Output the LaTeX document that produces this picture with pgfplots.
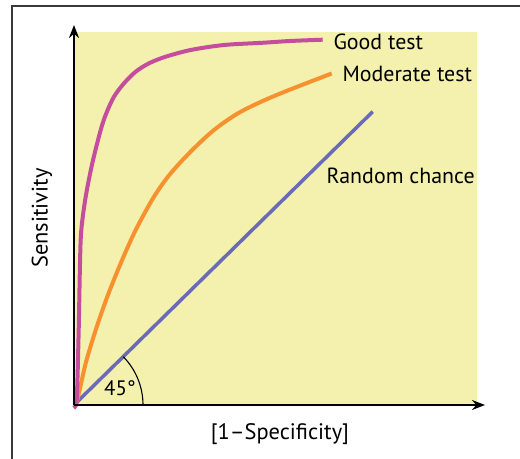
\documentclass[border=0pt]{standalone}
\usepackage{pgfplots}
\pgfplotsset{compat=1.18}
\usetikzlibrary{arrows.meta}
\usepackage{fontspec}
\setmainfont{PT Sans}
\definecolor{bgyellow}{HTML}{F3F1AD}
\definecolor{goodc}{HTML}{C44D9E}
\definecolor{modc}{HTML}{F7902E}
\definecolor{randc}{HTML}{6A6AB8}
\definecolor{framec}{HTML}{3A3A3A}
\begin{document}
\begin{tikzpicture}
\begin{axis}[
  x=1bp, y=1bp,
  xmin=0, xmax=411, ymin=0, ymax=380,
  axis lines*=left,
  axis line style={draw=none},
  xtick=\empty, ytick=\empty,
  clip=false,
  xlabel={[1–Specificity]},
  ylabel={Sensitivity},
  label style={font=\fontsize{22.5}{26}\selectfont},
  xlabel style={at={(axis description cs:0.501,-0.0763)}, anchor=center},
  ylabel style={at={(axis description cs:-0.078,0.492)}, anchor=center, rotate=0},
]
\coordinate (bl) at (axis cs:-74,-54);
\coordinate (tr) at (axis cs:446,405);
% background
\addplot[fill=bgyellow, draw=none] coordinates {(0,0) (403,0) (403,373) (0,373)} -- cycle;
% random chance
\addplot[randc, line width=3.5bp] coordinates {(0,0) (298.7,293.3)};
% moderate test
\addplot[modc, line width=4bp, smooth] coordinates {
(0,0) (3.3,5) (11.7,41.7) (21.7,75) (33.3,108.3) (46.7,141.7) (61.7,175)
(80,208.3) (96.7,231.7) (118.3,255) (140,275) (163.3,291.3) (188.3,303.8)
(216,315.4) (257.7,331.5)};
% good test
\addplot[goodc, line width=4bp, smooth] coordinates {
(0,0) (2.7,5) (4.7,75) (6,141.7) (7.3,175) (11.7,208.3) (18.3,241.7)
(26.7,275) (32.3,291.7) (40,308.3) (50,321.7) (61.7,333.3) (75,341.7)
(91.7,348.3) (116.7,355) (150,360) (190,362.3) (216,364) (248.7,365.3)};
% axes
\addplot[black, line width=2bp, -{Stealth[length=13bp,width=10bp]}] coordinates {(0,0) (411,0)};
\addplot[black, line width=2bp, -{Stealth[length=13bp,width=10bp]}] coordinates {(0,0) (0,380)};
\draw[black, line width=1.1bp] (axis cs:69,0) arc[start angle=0, end angle=44.5, radius=69bp];
\node[anchor=center, font=\fontsize{21}{24}\selectfont] at (axis cs:46,17) {45°};
\node[anchor=west, font=\fontsize{22}{25}\selectfont] at (axis cs:256,363) {Good test};
\node[anchor=west, font=\fontsize{22}{25}\selectfont] at (axis cs:265,331) {Moderate test};
\node[anchor=west, font=\fontsize{22}{25}\selectfont] at (axis cs:249,229) {Random chance};
\end{axis}
\pgfresetboundingbox
\useasboundingbox (bl) rectangle (tr);
\draw[framec, line width=1.6bp] ([xshift=12bp]bl) -- ([xshift=12bp,yshift=-6bp]bl |- tr) -- ([yshift=-6bp]tr);
\end{tikzpicture}
\end{document}
